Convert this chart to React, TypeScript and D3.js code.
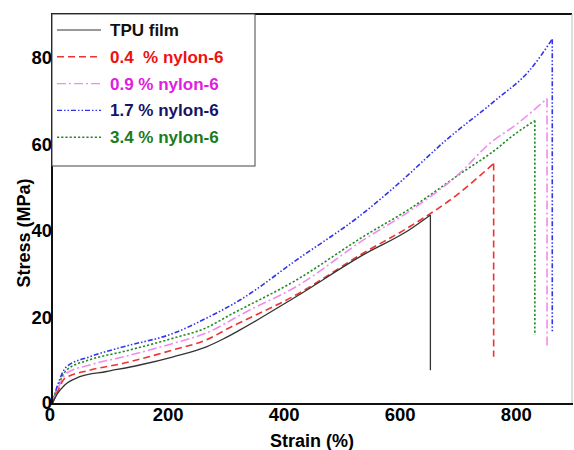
import React, { useEffect, useRef } from 'react';
import * as d3 from 'd3';

// strain (%) / stress (MPa) pairs, up to the break point
const tpuFilm = [[0, 0], [10, 2.5], [22, 4.4], [48, 6.3], [94, 7.5], [151, 9.0], [209, 10.9], [266, 13.2], [295, 15.0], [324, 17.1], [421, 24.8], [536, 34.4], [616, 40.2], [652, 43.6]];
const nylon04 = [[0, 0], [10, 3.0], [22, 5.9], [65, 7.8], [123, 9.4], [209, 12.5], [266, 14.8], [306, 17.6], [421, 25.2], [536, 34.8], [616, 40.9], [700, 48.5], [761, 55.5]];
const nylon09 = [[0, 0], [10, 3.5], [25, 7.1], [65, 9.0], [123, 10.9], [209, 14.0], [266, 16.4], [335, 21.3], [421, 27.1], [536, 37.8], [616, 44.5], [702, 53.2], [754, 60.1], [800, 64.5], [853, 70.5]];
const nylon17 = [[0, 0], [10, 4.5], [25, 8.6], [65, 10.9], [123, 13.2], [209, 16.3], [266, 19.8], [324, 24.0], [421, 33.2], [536, 44.0], [599, 51.1], [679, 60.9], [765, 70.2], [823, 77.0], [862, 84.2]];
const nylon34 = [[0, 0], [10, 4.0], [25, 7.8], [65, 10.2], [123, 12.1], [209, 15.2], [266, 17.6], [306, 20.5], [421, 28.6], [536, 38.6], [616, 45.0], [702, 53.0], [771, 59.4], [788, 61.3], [832, 65.4]];

// stress the line drops to after breaking
const breakStress = [7.8, 10.9, 12.8, 16.3, 15.9];

const seriesNames = ['TPU film', '0.4  % nylon-6', '0.9 % nylon-6', '1.7 % nylon-6', '3.4 % nylon-6'];
const xTicks = [0, 200, 400, 600, 800];
const yTicks = [0, 20, 40, 60, 80];

const lineColors = ['#333333', '#ee3333', '#f08cf0', '#3333ee', '#228b22'];
const textColors = ['#111111', '#ee1111', '#e020e0', '#141466', '#1c7a1c'];
const dashes = ['none', '7,4', '9,3,2,3', '5,2,1.5,2,1.5,2', '2.2,2'];

const App = () => {
  const ref = useRef(null);

  useEffect(() => {
    const svg = d3.select(ref.current);
    svg.selectAll('*').remove();

    const left = 52, right = 572, top = 14, bottom = 404;
    const x = d3.scaleLinear().domain([0, 896]).range([left, right]);
    const y = d3.scaleLinear().domain([0, 90]).range([bottom, top]);
    const font = '"Liberation Sans", Arial, Helvetica, sans-serif';

    const allSeries = [tpuFilm, nylon04, nylon09, nylon17, nylon34];

    const line = d3.line().x(d => x(d[0])).y(d => y(d[1])).curve(d3.curveMonotoneX);
    const straight = d3.line().x(d => x(d[0])).y(d => y(d[1]));

    const g = svg.append('g');

    // draw from last to first so TPU ends on top
    allSeries.slice().reverse().forEach((data, ri) => {
      const i = allSeries.length - 1 - ri;
      const last = data[data.length - 1];
      g.append('path')
        .attr('d', line(data))
        .attr('fill', 'none')
        .attr('stroke', lineColors[i])
        .attr('stroke-width', i === 0 ? 1.3 : 1.6)
        .attr('stroke-dasharray', dashes[i]);
      g.append('path')
        .attr('d', straight([last, [last[0], breakStress[i]]]))
        .attr('fill', 'none')
        .attr('stroke', lineColors[i])
        .attr('stroke-width', i === 0 ? 1.3 : 1.6)
        .attr('stroke-dasharray', dashes[i]);
    });

    // frame
    svg.append('line').attr('x1', left).attr('x2', right).attr('y1', top).attr('y2', top)
      .attr('stroke', '#111').attr('stroke-width', 2);
    svg.append('line').attr('x1', right).attr('x2', right).attr('y1', top).attr('y2', bottom)
      .attr('stroke', '#bbb').attr('stroke-width', 1);
    svg.append('line').attr('x1', left).attr('x2', right + 1).attr('y1', bottom).attr('y2', bottom)
      .attr('stroke', '#111').attr('stroke-width', 2);
    svg.append('line').attr('x1', left).attr('x2', left).attr('y1', top - 1).attr('y2', bottom + 1)
      .attr('stroke', '#111').attr('stroke-width', 2);

    // tick labels
    svg.selectAll('.xt').data(xTicks).enter().append('text')
      .attr('x', d => x(d) - (d === 0 ? 2 : 0))
      .attr('y', 421)
      .attr('text-anchor', 'middle')
      .style('font-family', font).style('font-weight', 'bold').style('font-size', '18.5px')
      .text(d => d);
    svg.selectAll('.yt').data(yTicks).enter().append('text')
      .attr('x', left)
      .attr('y', d => y(d) + 6.5 - (d === 0 ? 2 : 0))
      .attr('text-anchor', 'end')
      .style('font-family', font).style('font-weight', 'bold').style('font-size', '18.5px')
      .text(d => d);

    // axis titles
    svg.append('text')
      .attr('x', (left + right) / 2)
      .attr('y', 447)
      .attr('text-anchor', 'middle')
      .style('font-family', font).style('font-weight', 'bold').style('font-size', '18px')
      .text('Strain (%)');
    svg.append('text')
      .attr('transform', 'translate(30,233) rotate(-90)')
      .attr('text-anchor', 'middle')
      .style('font-family', font).style('font-weight', 'bold').style('font-size', '18px')
      .text('Stress (MPa)');

    // legend
    const legend = svg.append('g');
    legend.append('rect')
      .attr('x', left).attr('y', top).attr('width', 203).attr('height', 152)
      .attr('fill', '#fff').attr('stroke', '#444').attr('stroke-width', 1);
    seriesNames.forEach((name, i) => {
      const ly = 30 + i * 26.8;
      legend.append('line')
        .attr('x1', 57).attr('x2', 101).attr('y1', ly).attr('y2', ly)
        .attr('stroke', i === 0 ? '#777' : lineColors[i])
        .attr('stroke-width', 1.4)
        .attr('stroke-dasharray', dashes[i]);
      legend.append('text')
        .attr('x', 110).attr('y', ly + 6)
        .attr('fill', textColors[i])
        .style('font-family', font).style('font-weight', 'bold').style('font-size', '17px')
        .style('white-space', 'pre')
        .text(name);
    });
  }, []);

  return (
    <div>
      <svg ref={ref} width="574" height="450" style={{ position: 'absolute', left: 0, top: 0, background: '#fff' }}></svg>
    </div>
  );
};

export default App;
